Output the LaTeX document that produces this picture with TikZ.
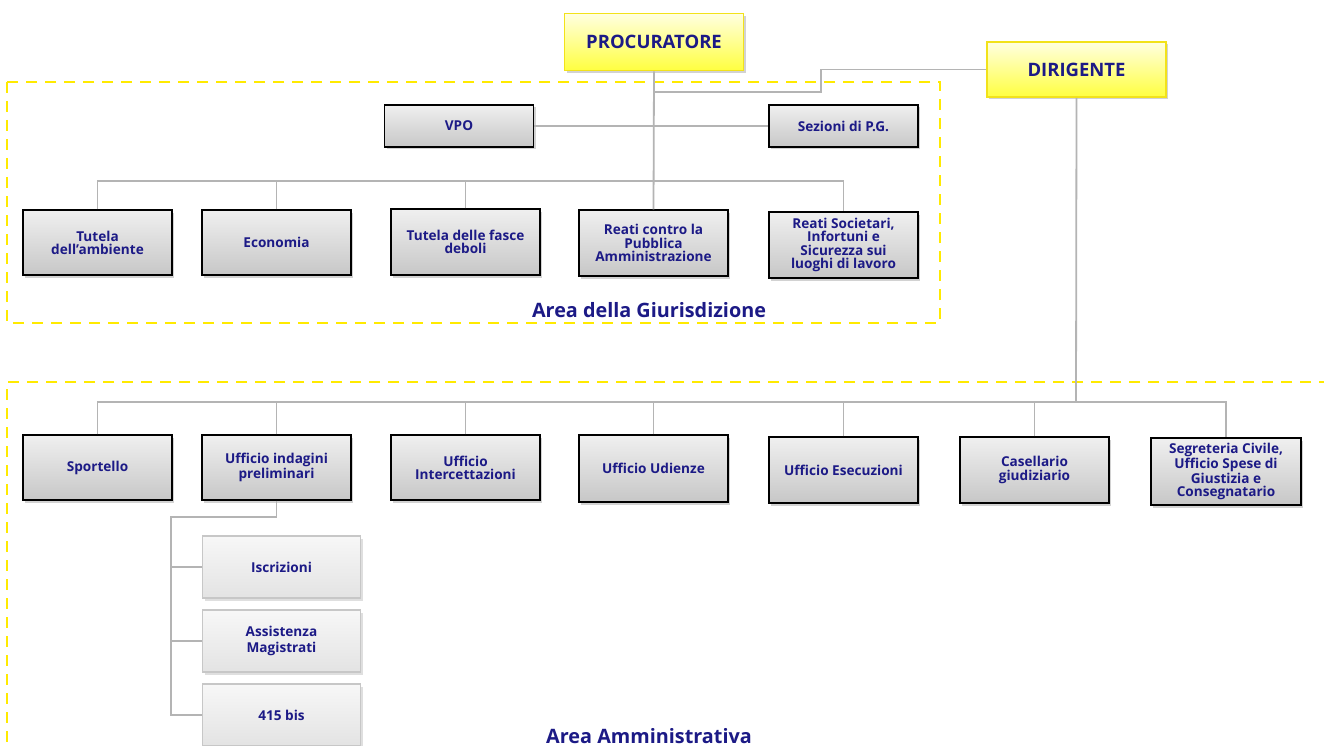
\documentclass[tikz,border=0pt]{standalone}
\usepackage{fontspec}
\setmainfont{Open Sans}
\usetikzlibrary{shadows,calc}
\definecolor{navy}{HTML}{1C1A86}
\definecolor{conng}{HTML}{B4B4B4}
\definecolor{dashy}{HTML}{FFEA00}
\definecolor{ybord}{HTML}{F2E21A}
\tikzset{
  conn/.style={draw=conng, line width=1.8pt},
  area/.style={draw=dashy, line width=1.8pt, dash pattern=on 11pt off 8pt},
  gbox/.style={draw=black, line width=1.3pt, top color=white!94!black, bottom color=white!78!black,
     minimum width=149pt, minimum height=65pt, align=center, text=navy,
     font=\fontsize{13.6}{13.2}\selectfont\bfseries, inner sep=2pt,
     drop shadow={opacity=0.35, shadow xshift=2pt, shadow yshift=-2.5pt}},
  sbox/.style={draw=white!78!black, line width=1.2pt, top color=white!97!black, bottom color=white!89!black,
     minimum width=158pt, minimum height=62pt, align=center, text=navy,
     font=\fontsize{13.6}{16.5}\selectfont\bfseries, inner sep=2pt,
     drop shadow={opacity=0.25, shadow xshift=2pt, shadow yshift=-2.5pt}},
  ybox/.style={draw=ybord, line width=1.6pt, top color=yellow!12, bottom color=yellow!75!white,
     minimum width=179pt, minimum height=57pt, align=center, text=navy,
     font=\fontsize{18.5}{18.5}\selectfont\bfseries,
     drop shadow={opacity=0.35, shadow xshift=2pt, shadow yshift=-2.5pt}},
  arealabel/.style={text=navy, font=\fontsize{19.8}{19.8}\selectfont\bfseries},
}
\begin{document}
\begin{tikzpicture}[x=1pt,y=-1pt]
\useasboundingbox[fill=white] (0,0) rectangle (1324,746);
% areas
\draw[area] (7,82) rectangle (940,323);
\draw[area] (1330,382) -- (7,382) -- (7,760);
% junction coordinates
\coordinate (b1) at (654,181);
\coordinate (d1) at (821,92);
\coordinate (b2) at (1076,402);
\coordinate (s1) at (171,517);
% nodes
\node[ybox] (proc) at (654,42) {PROCURATORE};
\node[ybox, minimum width=179pt, minimum height=55pt] (dir) at (1076.5,69.5) {DIRIGENTE};
\node[gbox, minimum height=42pt] (vpo) at (459,126) {VPO};
\node[gbox, minimum height=42pt] (sez) at (843.5,126) {Sezioni di P.G.};
\node[gbox] (tut) at (97.5,242.5) {Tutela\\dell'ambiente};
\node[gbox] (eco) at (276.5,242.5) {Economia};
\node[gbox, minimum height=66pt] (fas) at (465.5,242) {Tutela delle fasce\\deboli};
\node[gbox, minimum height=66pt] (pa) at (653.5,243) {Reati contro la\\Pubblica\\Amministrazione};
\node[gbox, minimum height=66pt] (soc) at (843.5,245) {Reati Societari,\\Infortuni e\\Sicurezza sui\\luoghi di lavoro};
\node[arealabel] (a1) at (649,310) {Area della Giurisdizione};
\node[gbox] (spo) at (97.5,467.5) {Sportello};
\node[gbox] (uip) at (276.5,467.5) {Ufficio indagini\\preliminari};
\node[gbox] (int) at (465.5,467.5) {Ufficio\\Intercettazioni};
\node[gbox, minimum height=67pt] (udi) at (653.5,468.5) {Ufficio Udienze};
\node[gbox, minimum height=66pt] (ese) at (843.5,470) {Ufficio Esecuzioni};
\node[gbox, minimum height=66pt] (cas) at (1034.5,470) {Casellario\\giudiziario};
\node[gbox, minimum height=67pt, minimum width=150pt] (seg) at (1226,471.5) {Segreteria Civile,\\Ufficio Spese di\\Giustizia e\\Consegnatario};
\node[sbox] (isc) at (281.5,567) {Iscrizioni};
\node[sbox] (ass) at (281.5,641) {Assistenza\\Magistrati};
\node[sbox] (bis) at (281.5,715) {415 bis};
\node[arealabel] (a2) at (649,736) {Area Amministrativa};
% connectors
\draw[conn] (proc.south) -- (pa.north);
\draw[conn] (vpo.east) -- (sez.west);
\draw[conn] (tut.north) |- (b1) -| (soc.north);
\draw[conn] (eco.north) -- (eco.north |- b1);
\draw[conn] (fas.north) -- (fas.north |- b1);
\draw[conn] (dir.west) -| (d1) -- (d1 -| proc.south);
\draw[conn] (dir.south) -- (b2);
\draw[conn] (spo.north) |- (b2) -| (seg.north);
\draw[conn] (uip.north) -- (uip.north |- b2);
\draw[conn] (int.north) -- (int.north |- b2);
\draw[conn] (udi.north) -- (udi.north |- b2);
\draw[conn] (ese.north) -- (ese.north |- b2);
\draw[conn] (cas.north) -- (cas.north |- b2);
\draw[conn] (uip.south) |- (s1) |- (isc.west);
\draw[conn] (s1) |- (ass.west);
\draw[conn] (s1) |- (bis.west);
\end{tikzpicture}
\end{document}
